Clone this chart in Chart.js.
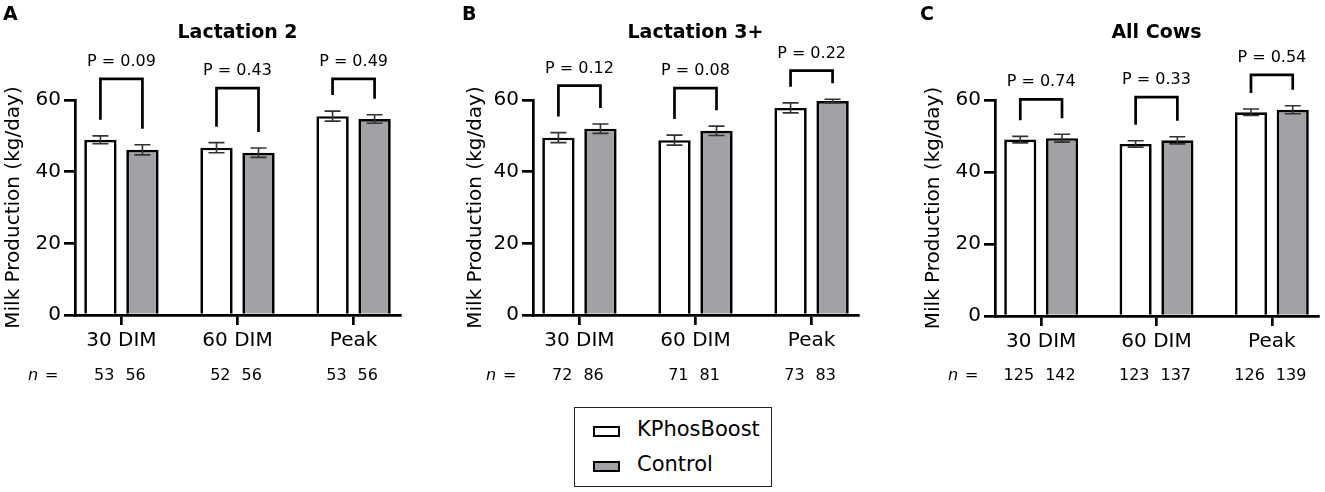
<!DOCTYPE html>
<html lang="en">

<head>
    <meta charset="UTF-8">
    <meta name="viewport" content="width=device-width, initial-scale=1.0">
    <title>Milk Production</title>
    <script src="https://cdn.jsdelivr.net/npm/chart.js"></script>
    <style>
        body {
            margin: 0;
            background: #fff;
            width: 1325px;
            height: 492px;
            position: relative;
            overflow: hidden;
            font-family: "DejaVu Sans", sans-serif;
        }

        canvas {
            position: absolute;
            top: 0;
        }

        .legenda {
            position: absolute;
            left: 574px;
            top: 407px;
            width: 198px;
            height: 80px;
            border: 1.5px solid #222;
            box-sizing: border-box;
        }

        .caixa {
            position: absolute;
            left: 18px;
            width: 27px;
            height: 11px;
            border: 2.5px solid #000;
            box-sizing: border-box;
        }

        .texto {
            position: absolute;
            left: 62px;
            font-size: 21px;
            line-height: 24px;
            color: #000;
            white-space: nowrap;
        }
    </style>
</head>

<body>
    <canvas id="graficoA" width="440" height="395" style="left:0px"></canvas>
    <canvas id="graficoB" width="440" height="395" style="left:440px"></canvas>
    <canvas id="graficoC" width="445" height="395" style="left:880px"></canvas>

    <div class="legenda">
        <div class="caixa" style="top:18px; background:#fff"></div>
        <div class="texto" style="top:9px">KPhosBoost</div>
        <div class="caixa" style="top:53px; background:#a2a2a6"></div>
        <div class="texto" style="top:44px">Control</div>
    </div>

    <script>
        // dados
        const categorias = ['30 DIM', '60 DIM', 'Peak'];

        // Lactation 2
        const kphosA = [48.9, 46.7, 55.5];
        const kphosErroA = [1.1, 1.4, 1.4];
        const controleA = [46.1, 45.3, 54.7];
        const controleErroA = [1.4, 1.3, 1.2];
        const chaveA = [65.9, 63.3, 65.9];
        const pA = ['P = 0.09', 'P = 0.43', 'P = 0.49'];
        const nKphosA = [53, 52, 53];
        const nControleA = [56, 56, 56];

        // Lactation 3+
        const kphosB = [49.5, 48.8, 57.8];
        const kphosErroB = [1.4, 1.4, 1.4];
        const controleB = [52.0, 51.4, 59.7];
        const controleErroB = [1.3, 1.3, 0.5];
        const chaveB = [64.0, 63.3, 68.2];
        const pB = ['P = 0.12', 'P = 0.08', 'P = 0.22'];
        const nKphosB = [72, 71, 73];
        const nControleB = [86, 81, 83];

        // All Cows
        const kphosC = [49.0, 47.8, 56.6];
        const kphosErroC = [0.9, 0.9, 0.9];
        const controleC = [49.4, 48.8, 57.3];
        const controleErroC = [1.1, 1.0, 1.1];
        const chaveC = [60.2, 60.8, 67.0];
        const pC = ['P = 0.74', 'P = 0.33', 'P = 0.54'];
        const nKphosC = [125, 123, 126];
        const nControleC = [142, 137, 139];

        const ticksY = [0, 20, 40, 60];

        Chart.defaults.font.family = '"DejaVu Sans", sans-serif';
        Chart.defaults.color = '#000';

        // barras de erro (media +/- erro)
        const pluginErros = {
            id: 'erros',
            afterDatasetsDraw(chart) {
                const ctx = chart.ctx;
                const y = chart.scales.y;
                chart.data.datasets.forEach(function (ds, d) {
                    chart.getDatasetMeta(d).data.forEach(function (barra, i) {
                        const topo = y.getPixelForValue(ds.data[i].y + ds.erros[i]);
                        const base = y.getPixelForValue(ds.data[i].y - ds.erros[i]);
                        ctx.save();
                        ctx.strokeStyle = '#333';
                        ctx.lineWidth = 1.6;
                        ctx.beginPath();
                        ctx.moveTo(barra.x, topo);
                        ctx.lineTo(barra.x, base);
                        ctx.moveTo(barra.x - 8, topo);
                        ctx.lineTo(barra.x + 8, topo);
                        ctx.moveTo(barra.x - 8, base);
                        ctx.lineTo(barra.x + 8, base);
                        ctx.stroke();
                        ctx.restore();
                    });
                });
            }
        };

        // chaves com P, titulo, letra do painel e linha de n
        const pluginTextos = {
            id: 'textos',
            afterDraw(chart, args, opts) {
                const ctx = chart.ctx;
                const y = chart.scales.y;
                const x = chart.scales.x;
                const area = chart.chartArea;
                const ds0 = chart.data.datasets[0];
                const ds1 = chart.data.datasets[1];
                const meta0 = chart.getDatasetMeta(0);
                const meta1 = chart.getDatasetMeta(1);

                ctx.save();
                ctx.strokeStyle = '#000';
                ctx.lineWidth = 2.7;
                ctx.lineJoin = 'miter';
                ctx.lineCap = 'butt';
                ctx.fillStyle = '#000';

                for (let i = 0; i < categorias.length; i++) {
                    const x1 = meta0.data[i].x;
                    const x2 = meta1.data[i].x;
                    const topo = y.getPixelForValue(opts.chaves[i]);
                    const fim1 = y.getPixelForValue(ds0.data[i].y + ds0.erros[i]) - 16;
                    const fim2 = y.getPixelForValue(ds1.data[i].y + ds1.erros[i]) - 16;
                    ctx.beginPath();
                    ctx.moveTo(x1, fim1);
                    ctx.lineTo(x1, topo);
                    ctx.lineTo(x2, topo);
                    ctx.lineTo(x2, fim2);
                    ctx.stroke();

                    ctx.font = '16px "DejaVu Sans"';
                    ctx.textAlign = 'center';
                    ctx.textBaseline = 'alphabetic';
                    ctx.fillText(opts.p[i], (x1 + x2) / 2, topo - 13);

                    const centro = x.getPixelForValue(i);
                    ctx.textAlign = 'right';
                    ctx.fillText(String(opts.nKphos[i]), centro - 7, 380);
                    ctx.textAlign = 'left';
                    ctx.fillText(String(opts.nControle[i]), centro + 4, 380);
                }

                ctx.textAlign = 'left';
                ctx.font = 'italic 16px "DejaVu Sans"';
                ctx.fillText('n', area.left - 47, 380);
                ctx.font = '16px "DejaVu Sans"';
                ctx.fillText('=', area.left - 30, 380);

                ctx.font = 'bold 19px "DejaVu Sans"';
                ctx.textAlign = 'center';
                ctx.fillText(opts.titulo, (area.left + area.right) / 2, 37.5);
                ctx.textAlign = 'left';
                ctx.fillText(opts.letra, area.left - opts.recuoLetra, 20);
                ctx.restore();
            }
        };

        function criarPainel(id, painel) {
            const pontos = function (valores) {
                return valores.map(function (v, i) { return { x: i, y: v }; });
            };

            return new Chart(document.getElementById(id), {
                type: 'bar',
                data: {
                    datasets: [{
                        label: 'KPhosBoost',
                        data: pontos(painel.kphos),
                        erros: painel.kphosErro,
                        backgroundColor: '#ffffff',
                        borderColor: '#000',
                        borderWidth: 2.7,
                        categoryPercentage: 0.724,
                        barPercentage: 0.77
                    }, {
                        label: 'Control',
                        data: pontos(painel.controle),
                        erros: painel.controleErro,
                        backgroundColor: '#a2a2a6',
                        borderColor: '#000',
                        borderWidth: 2.7,
                        categoryPercentage: 0.724,
                        barPercentage: 0.77
                    }]
                },
                options: {
                    responsive: false,
                    animation: false,
                    devicePixelRatio: 1,
                    layout: {
                        padding: { top: 100, left: painel.margemEsq, right: painel.margemDir, bottom: 0 }
                    },
                    scales: {
                        x: {
                            type: 'linear',
                            min: -0.4,
                            max: 2.4,
                            offset: false,
                            afterBuildTicks: function (s) {
                                s.ticks = categorias.map(function (c, i) { return { value: i }; });
                            },
                            afterFit: function (s) { s.height = 395 - painel.fundo; },
                            ticks: {
                                font: { size: 20 },
                                color: '#000',
                                padding: 4,
                                maxRotation: 0,
                                autoSkip: false,
                                callback: function (v) { return categorias[v]; }
                            },
                            grid: { offset: false, drawOnChartArea: false, drawTicks: true, tickLength: 10, color: '#000', lineWidth: 2.7 },
                            border: { color: '#000', width: 2.7 }
                        },
                        y: {
                            min: 0,
                            max: 60,
                            afterBuildTicks: function (s) {
                                s.ticks = ticksY.map(function (v) { return { value: v }; });
                            },
                            afterFit: function (s) { s.width = painel.largY; },
                            ticks: { font: { size: 20 }, color: '#000', padding: 3 },
                            grid: { drawOnChartArea: false, drawTicks: true, tickLength: 11, color: '#000', lineWidth: 2.7 },
                            border: { color: '#000', width: 2.7 },
                            title: {
                                display: true,
                                text: 'Milk Production (kg/day)',
                                font: { size: 20 },
                                color: '#000',
                                padding: 0
                            }
                        }
                    },
                    plugins: {
                        legend: { display: false },
                        tooltip: { enabled: false },
                        textos: {
                            chaves: painel.chaves,
                            p: painel.p,
                            nKphos: painel.nKphos,
                            nControle: painel.nControle,
                            titulo: painel.titulo,
                            letra: painel.letra,
                            recuoLetra: painel.recuoLetra
                        }
                    }
                },
                plugins: [pluginErros, pluginTextos]
            });
        }

        criarPainel('graficoA', {
            kphos: kphosA, kphosErro: kphosErroA, controle: controleA, controleErro: controleErroA,
            chaves: chaveA, p: pA, nKphos: nKphosA, nControle: nControleA,
            titulo: 'Lactation 2', letra: 'A', recuoLetra: 72,
            margemEsq: 2, largY: 73, margemDir: 40, fundo: 315
        });

        criarPainel('graficoB', {
            kphos: kphosB, kphosErro: kphosErroB, controle: controleB, controleErro: controleErroB,
            chaves: chaveB, p: pB, nKphos: nKphosB, nControle: nControleB,
            titulo: 'Lactation 3+', letra: 'B', recuoLetra: 71,
            margemEsq: 24, largY: 69, margemDir: 22, fundo: 315
        });

        criarPainel('graficoC', {
            kphos: kphosC, kphosErro: kphosErroC, controle: controleC, controleErro: controleErroC,
            chaves: chaveC, p: pC, nKphos: nKphosC, nControle: nControleC,
            titulo: 'All Cows', letra: 'C', recuoLetra: 75,
            margemEsq: 42, largY: 73, margemDir: 7, fundo: 316
        });
    </script>
</body>

</html>
